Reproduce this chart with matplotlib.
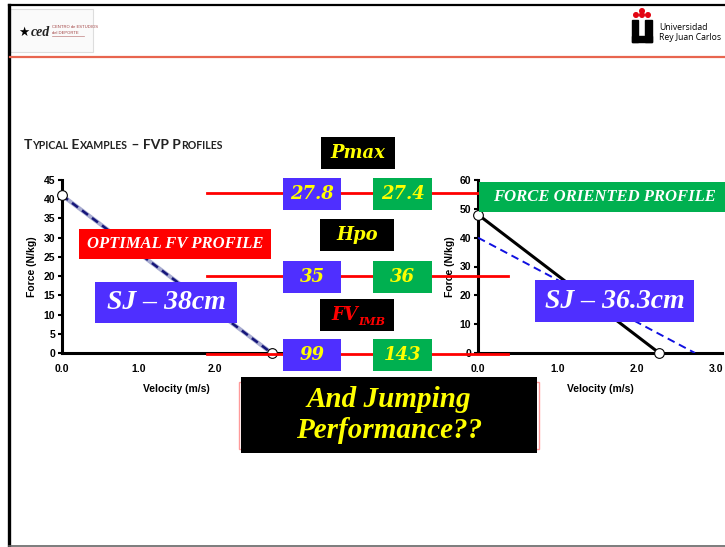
import matplotlib
matplotlib.use("Agg")
import matplotlib.pyplot as plt
from matplotlib.patches import Rectangle, Circle

# force-velocity profiles: (F0 in N/kg, v0 in m/s)
opt_F0, opt_v0 = 41, 2.74          # optimal profile, left panel
force_F0, force_v0 = 48, 2.28      # force oriented athlete, right panel
ref_F0, ref_v0 = 40, 2.73          # optimal profile drawn as reference, right panel

# summary values for each athlete: [optimal, force oriented]
pmax = [27.8, 27.4]
hpo = [35, 36]
fv_imb = [99, 143]
sj_cm = [38, 36.3]

left_yticks = list(range(0, 50, 5))
right_yticks = list(range(0, 70, 10))
left_xticks = [0.0, 1.0, 2.0]
right_xticks = [0.0, 1.0, 2.0, 3.0]

BLUE = "#4F2FFF"
GREEN = "#00B050"
RED = "#FF0000"
YELLOW = "#FFFF00"
SERIF = "DejaVu Serif"
TIMES = "Liberation Serif"
SANS = "Liberation Sans"

W, H = 725, 547
fig = plt.figure(figsize=(W / 100, H / 100), dpi=100)


def px_axes(x0, y_bottom, w, h):
    return fig.add_axes([x0 / W, 1 - y_bottom / H, w / W, h / H])


def style_axes(ax, xticks, yticks, xlim, ylim):
    ax.set_xlim(*xlim)
    ax.set_ylim(*ylim)
    ax.set_xticks(xticks)
    ax.set_xticklabels([f"{t:.1f}" for t in xticks])
    ax.set_yticks(yticks)
    for s in ("top", "right"):
        ax.spines[s].set_visible(False)
    for s in ("left", "bottom"):
        ax.spines[s].set_linewidth(2.2)
    ax.tick_params(axis="y", direction="out", length=3, width=1.5, pad=2)
    ax.tick_params(axis="x", direction="out", length=0, pad=8)
    for lab in ax.get_xticklabels() + ax.get_yticklabels():
        lab.set_fontfamily(SANS)
        lab.set_fontweight("bold")
        lab.set_fontsize(7.5)
    ax.set_xlabel("Velocity (m/s)", fontfamily=SANS, fontweight="bold", fontsize=7.5, labelpad=7)
    ax.set_ylabel("Force (N/kg)", fontfamily=SANS, fontweight="bold", fontsize=7.5, labelpad=5)
    ax.patch.set_alpha(0)


# left panel: optimal profile
ax1 = px_axes(62, 353, 229.5, 173)
style_axes(ax1, left_xticks, left_yticks, (0, 3.0), (0, 45))
ax1.plot([0, opt_v0], [opt_F0, 0], color="#A7ABD0", lw=3, solid_capstyle="butt", zorder=3)
ax1.plot([0, opt_v0], [opt_F0, 0], color="#15157A", lw=1.8, ls=(0, (3, 2)), zorder=4)
ax1.plot([0, opt_v0], [opt_F0, 0], "o", ms=7, mfc="white", mec="black", mew=0.8,
         zorder=5, clip_on=False)

# right panel: force oriented profile vs optimal
ax2 = px_axes(478, 353, 244, 173)
style_axes(ax2, right_xticks, right_yticks, (0, 3.07), (0, 60))
ax2.yaxis.labelpad = 3
ax2.plot([0, ref_v0], [ref_F0, 0], color="#1010E0", lw=1.4, ls=(0, (4, 2.5)), zorder=3)
ax2.plot([0, force_v0], [force_F0, 0], color="black", lw=2.2, zorder=4)
ax2.plot([0, force_v0], [force_F0, 0], "o", ms=7, mfc="white", mec="black", mew=0.8,
         zorder=5, clip_on=False)

# overlay in pixel coordinates for the slide decoration and labels
ov = fig.add_axes([0, 0, 1, 1], zorder=10)
ov.set_xlim(0, W)
ov.set_ylim(H, 0)
ov.axis("off")
ov.patch.set_alpha(0)

# slide frame
ov.plot([9, W], [5, 5], color="black", lw=1.6)
ov.plot([9, 9], [5, 546], color="black", lw=2.4)
ov.plot([9, W], [546, 546], color="#666666", lw=1.2)
ov.plot([10, W], [57, 57], color="#E8654F", lw=1.6)

# left logo
ov.add_patch(Rectangle((10, 9), 83, 43, fc="#FAFAFA", ec="#DDDDDD", lw=0.8))
ov.text(24, 32, "\u2605", fontsize=9, color="black", va="center", ha="center")
ov.text(31, 33, "ced", fontfamily=TIMES, fontstyle="italic", fontweight="bold",
        fontsize=10, color="#222222", va="center")
ov.text(52, 27, "CENTRO de ESTUDIOS", fontfamily=SANS, fontsize=3, color="#A04040", va="center")
ov.text(52, 33, "del DEPORTE", fontfamily=SANS, fontsize=3, color="#A04040", va="center")
ov.plot([52, 84], [36, 36], color="#C08080", lw=0.5)

# right logo
for cx, cy in [(636, 15), (642, 15), (648, 15), (642, 11)]:
    ov.add_patch(Circle((cx, cy), 2.3, color="#E20613"))
ov.add_patch(Rectangle((632, 20), 6.5, 22, color="black"))
ov.add_patch(Rectangle((645.5, 20), 6.5, 22, color="black"))
ov.add_patch(Rectangle((632, 36), 20, 6, color="black"))
ov.text(659, 28, "Universidad", fontfamily="Open Sans", fontsize=6.2, va="center")
ov.text(659, 38, "Rey Juan Carlos", fontfamily="Open Sans", fontsize=6.2, va="center")

# small caps title
pieces = [("T", 10), ("YPICAL", 7.6), (" E", 10), ("XAMPLES", 7.6),
          (" \u2013 FVP P", 10), ("ROFILES", 7.6)]
t = ov.text(24, 149, pieces[0][0], fontfamily="Lato", fontweight="bold",
            fontsize=pieces[0][1], va="baseline", color="#222222")
for txt, fs in pieces[1:]:
    t = ov.annotate(txt, xy=(1, 0), xycoords=t, va="bottom", ha="left",
                    fontfamily="Lato", fontweight="bold", fontsize=fs, color="#222222")

# red connector lines (behind the value boxes)
ov.plot([207, 478], [193, 193], color=RED, lw=2, zorder=1)
ov.plot([207, 508], [276, 276], color=RED, lw=2, zorder=1)
ov.plot([207, 508], [354, 354], color=RED, lw=2, zorder=1)


def label_box(x0, y0, x1, y1, text, fc, color, fs, weight="bold", family=SERIF, dx=0):
    ov.add_patch(Rectangle((x0, y0), x1 - x0, y1 - y0, fc=fc, ec="none", zorder=2))
    return ov.text((x0 + x1) / 2 + dx, (y0 + y1) / 2, text, ha="center", va="center",
                   color=color, fontsize=fs, fontfamily=family, fontstyle="italic",
                   fontweight=weight, zorder=3)


label_box(321, 137, 395, 169, "Pmax", "black", YELLOW, 13)
label_box(320, 219, 394, 251, "Hpo", "black", YELLOW, 13)
fv = label_box(320, 299, 394, 331, "FV", "black", RED, 13, dx=-12)
ov.annotate("IMB", xy=(1, 0.12), xycoords=fv, va="center", ha="left", color=RED,
            fontsize=8, fontfamily=SERIF, fontstyle="italic", fontweight="bold", zorder=3)

rows = [(178, 210, pmax), (261, 293, hpo), (339, 371, fv_imb)]
for y0, y1, vals in rows:
    label_box(283, y0, 341, y1, f"{vals[0]:g}", BLUE, YELLOW, 13)
    label_box(373, y0, 432, y1, f"{vals[1]:g}", GREEN, YELLOW, 13)

label_box(79, 229, 271, 259, "OPTIMAL FV PROFILE", RED, "white", 12, family=TIMES)
label_box(479, 182, 730, 212, "FORCE ORIENTED PROFILE", GREEN, "white", 12,
          family=TIMES, dx=0)
label_box(95, 282, 237, 323, f"SJ \u2013 {sj_cm[0]:g}cm", BLUE, "white", 20, family=TIMES)
label_box(535, 280, 694, 322, f"SJ \u2013 {sj_cm[1]:g}cm", BLUE, "white", 20, family=TIMES)

ov.add_patch(Rectangle((239, 382), 300, 67, fc="none", ec="#FF9A9A", lw=1))
jump = label_box(241, 377, 537, 453, "And Jumping\nPerformance??", "black", YELLOW, 21,
                 family=TIMES)
jump.set_linespacing(1.2)

fig.savefig("out.png", dpi=100)
